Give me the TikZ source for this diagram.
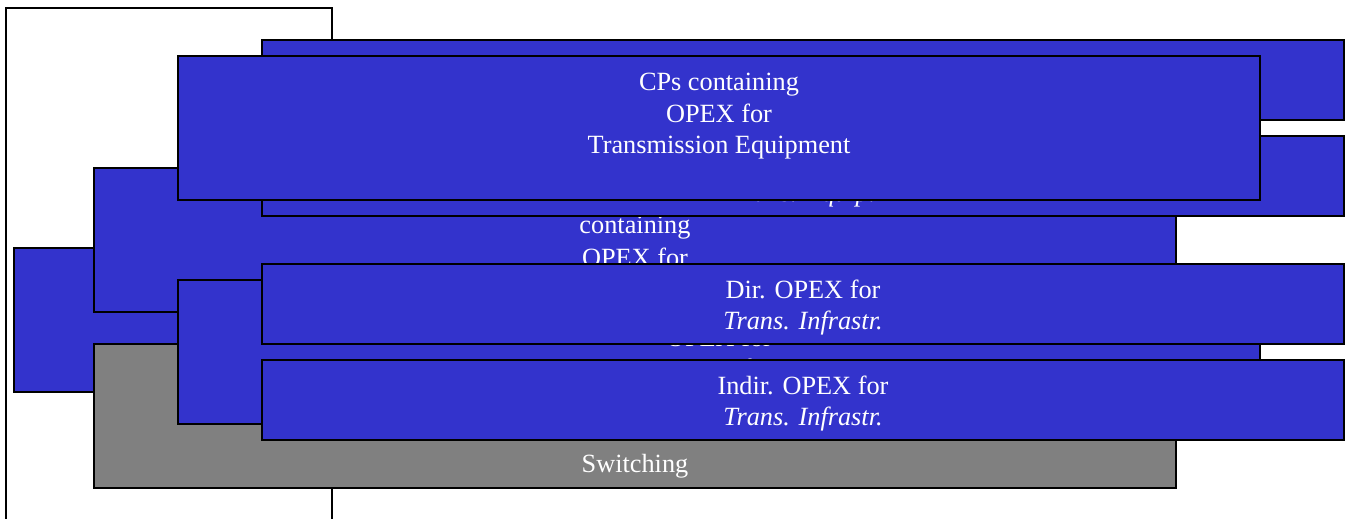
\documentclass[tikz,border=0pt]{standalone}
\usepackage{fontspec}
\setmainfont{Liberation Serif}
\definecolor{boxblue}{HTML}{3333CC}
\definecolor{boxgray}{HTML}{808080}
\newcommand\ls{\rule[-5.5pt]{0pt}{31pt}}
\begin{document}
\begin{tikzpicture}[x=1pt,y=-1pt,
  box/.style={draw=black,line width=1.4pt,rectangle,inner sep=0pt,outer sep=0pt,
    minimum width=1082pt,text=white,align=center,
    font=\fontsize{26.3}{31}\selectfont},
  tall/.style={box,minimum height=144pt},
  flat/.style={box,minimum height=80pt},
  bluebox/.style={fill=boxblue},
  graybox/.style={fill=boxgray}]
\useasboundingbox (0,0) rectangle (1350,519);
\clip (0,0) rectangle (1350,519);
\node[draw=black,line width=1.4pt,fill=white,rectangle,inner sep=0pt,
  minimum width=326pt,minimum height=552pt] (root) at (169,284) {};
\node[tall,bluebox] (a) at (555,320) {};
\node[tall,bluebox] (b) at (635,240) {\ls\\\ls containing\\\ls OPEX for\\\ls};
\node[flat,bluebox] (c) at (803,80) {};
\node[flat,bluebox] (d) at (803,176) {\ls\\\ls\textit{Trans. Equip.}};
\node[tall,bluebox] (e) at (719,128) {\ls CPs containing\\\ls OPEX for\\\ls Transmission Equipment\\\ls};
\node[tall,graybox] (g) at (635,416) {\ls\\\ls\\\ls\\\ls Switching};
\node[tall,bluebox] (f) at (719,352) {\ls\\\ls OPEX for\\\ls Transmission Infrastructure\\\ls};
\node[flat,bluebox] (dir) at (803,304) {\ls Dir. OPEX for\\\ls\textit{Trans. Infrastr.}};
\node[flat,bluebox] (indir) at (803,400) {\ls Indir. OPEX for\\\ls\textit{Trans. Infrastr.}};
\end{tikzpicture}
\end{document}
